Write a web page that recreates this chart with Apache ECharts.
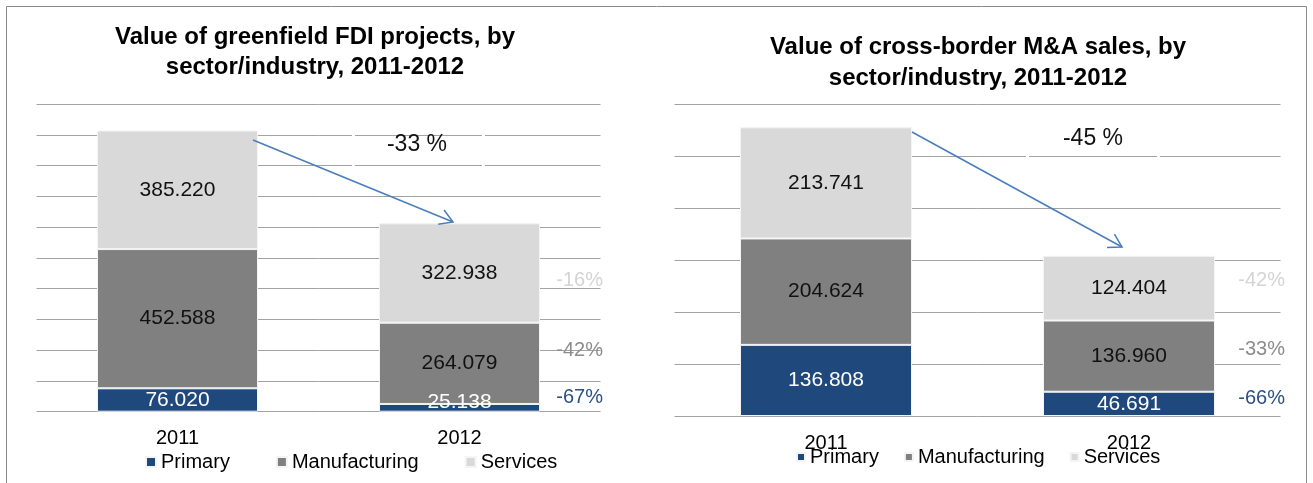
<!DOCTYPE html>
<html>
<head>
<meta charset="utf-8">
<title>Greenfield FDI and cross-border M&amp;A by sector, 2011-2012</title>
<script src="https://cdn.jsdelivr.net/npm/echarts@6/dist/echarts.min.js"></script>
<style>
  html, body { margin: 0; padding: 0; background: #fff; }
  #chart { width: 1313px; height: 483px; }
</style>
</head>
<body>
<div id="chart"></div>
<script>
// Categories
const years = ['2011', '2012'];
const sectors = ['Primary', 'Manufacturing', 'Services'];

// Value of greenfield FDI projects (left panel)
const fdiPrimary = [76.020, 25.138];
const fdiManufacturing = [452.588, 264.079];
const fdiServices = [385.220, 322.938];
const fdiChange = ['-67%', '-42%', '-16%'];
const fdiTotalChange = '-33 %';

// Value of cross-border M&A sales (right panel)
const maPrimary = [136.808, 46.691];
const maManufacturing = [204.624, 136.960];
const maServices = [213.741, 124.404];
const maChange = ['-66%', '-33%', '-42%'];
const maTotalChange = '-45 %';

// Value-axis ranges
const fdiAxisMax = 1000;
const maAxisMax = 600;
const axisStep = 100;

const FONT = 'Liberation Sans, Arial, Helvetica, sans-serif';
const sectorColors = ['#1F497D', '#808080', '#D9D9D9'];
const labelColors = ['#ffffff', '#111111', '#111111'];
const changeColors = ['#2b5086', '#8c8c8c', '#d4d4d4'];
const arrowColor = '#4a7ebb';
const gridColor = '#a3a3a3';

const chart = echarts.init(document.getElementById('chart'), null, { renderer: 'canvas' });

function fmt(v) { return v.toFixed(3); }

function stackSeries(name, data, idx, gridIdx, barWidth, stack) {
  return {
    type: 'bar',
    name: name,
    stack: stack,
    xAxisIndex: gridIdx,
    yAxisIndex: gridIdx,
    barWidth: barWidth,
    data: data,
    itemStyle: { color: sectorColors[idx], borderColor: '#f4f4f4', borderWidth: 1 },
    label: {
      show: true,
      position: 'inside',
      formatter: p => fmt(p.value),
      color: labelColors[idx],
      fontFamily: FONT,
      fontSize: 21
    },
    emphasis: { disabled: true },
    silent: true,
    animation: false
  };
}

// Small offset so the thin 2012 primary label sits just above its sliver
const fdiPrimaryData = fdiPrimary.map((v, i) => (
  i === 1 ? { value: v, label: { offset: [0, -6] } } : v
));

const xAxisCommon = {
  type: 'category',
  data: years,
  axisLine: { show: false },
  axisTick: { show: false },
  axisLabel: { color: '#000', fontFamily: FONT, fontSize: 20, margin: 17 }
};
const yAxisCommon = {
  type: 'value',
  min: 0,
  interval: axisStep,
  axisLabel: { show: false },
  axisLine: { show: false },
  axisTick: { show: false },
  splitLine: { show: true, lineStyle: { color: gridColor, width: 1 } }
};

const legendCommon = {
  data: sectors,
  orient: 'horizontal',
  icon: 'rect',
  textStyle: { color: '#000', fontFamily: FONT, fontSize: 20 },
  selectedMode: false
};

// Annotation helpers: arrow with an open head, and framed change labels
function arrow(x1, y1, x2, y2) {
  const ang = Math.atan2(y2 - y1, x2 - x1);
  const len = 15, spread = 31 * Math.PI / 180;
  const w1 = [x2 - len * Math.cos(ang - spread), y2 - len * Math.sin(ang - spread)];
  const w2 = [x2 - len * Math.cos(ang + spread), y2 - len * Math.sin(ang + spread)];
  return [
    { type: 'polyline', z: 120, silent: true,
      shape: { points: [[x1, y1], [x2, y2]] },
      style: { stroke: arrowColor, lineWidth: 1.5, fill: null } },
    { type: 'polyline', z: 120, silent: true,
      shape: { points: [w1, [x2, y2], w2] },
      style: { stroke: arrowColor, lineWidth: 1.5, fill: null } }
  ];
}
function txt(text, x, y, size, color, align) {
  return {
    type: 'text', z: 110, silent: true, x: x, y: y,
    style: { text: text, fill: color, fontFamily: FONT, fontSize: size,
             align: align, verticalAlign: 'middle', textAlign: align, textVerticalAlign: 'middle' }
  };
}
function whiteFrame(x, y, w, h) {
  return { type: 'rect', z: 100, silent: true,
    shape: { x: x, y: y, width: w, height: h },
    style: { fill: null, stroke: '#ffffff', lineWidth: 3 } };
}

const graphics = [
  { type: 'rect', z: 130, silent: true,
    shape: { x: 6.5, y: 6.5, width: 1300, height: 500 },
    style: { fill: null, stroke: '#888888', lineWidth: 1 } },
  whiteFrame(353.5, 112, 130, 75),
  whiteFrame(1027.5, 112, 131, 85),
  txt(fdiTotalChange, 417, 145, 23, '#111', 'center'),
  txt(maTotalChange, 1093, 139, 23, '#111', 'center'),
  txt(fdiChange[0], 603, 397, 20, changeColors[0], 'right'),
  txt(fdiChange[1], 603, 350, 20, changeColors[1], 'right'),
  txt(fdiChange[2], 603, 280, 20, changeColors[2], 'right'),
  txt(maChange[0], 1285, 398, 20, changeColors[0], 'right'),
  txt(maChange[1], 1285, 349, 20, changeColors[1], 'right'),
  txt(maChange[2], 1285, 280, 20, changeColors[2], 'right')
].concat(arrow(253, 140, 453, 222), arrow(912, 132, 1122, 247));

const option = {
  backgroundColor: '#ffffff',
  animation: false,
  title: [
    {
      text: 'Value of greenfield FDI projects, by\nsector/industry, 2011-2012',
      left: 315, top: 22, textAlign: 'center', padding: 0,
      textStyle: { fontFamily: FONT, fontSize: 24, fontWeight: 'bold', color: '#000', lineHeight: 30 }
    },
    {
      text: 'Value of cross-border M&A sales, by\nsector/industry, 2011-2012',
      left: 978, top: 32, textAlign: 'center', padding: 0,
      textStyle: { fontFamily: FONT, fontSize: 24, fontWeight: 'bold', color: '#000', lineHeight: 31 }
    }
  ],
  legend: [
    Object.assign({}, legendCommon, { left: 145, top: 452, itemWidth: 10, itemHeight: 10, itemGap: 46, padding: 0 }),
    Object.assign({}, legendCommon, { left: 796, top: 447, itemWidth: 8, itemHeight: 8, itemGap: 25, padding: 0 })
  ],
  grid: [
    { left: 36.5, width: 564, top: 104, height: 307.7 },
    { left: 674.5, width: 606, top: 104, height: 312 }
  ],
  xAxis: [
    Object.assign({}, xAxisCommon, { gridIndex: 0 }),
    Object.assign({}, xAxisCommon, { gridIndex: 1 })
  ],
  yAxis: [
    Object.assign({}, yAxisCommon, { gridIndex: 0, max: fdiAxisMax }),
    Object.assign({}, yAxisCommon, { gridIndex: 1, max: maAxisMax })
  ],
  series: [
    stackSeries('Primary', fdiPrimaryData, 0, 0, 161, 'fdi'),
    stackSeries('Manufacturing', fdiManufacturing, 1, 0, 161, 'fdi'),
    stackSeries('Services', fdiServices, 2, 0, 161, 'fdi'),
    stackSeries('Primary', maPrimary, 0, 1, 172, 'ma'),
    stackSeries('Manufacturing', maManufacturing, 1, 1, 172, 'ma'),
    stackSeries('Services', maServices, 2, 1, 172, 'ma')
  ],
  graphic: graphics
};

chart.setOption(option);
</script>
</body>
</html>
